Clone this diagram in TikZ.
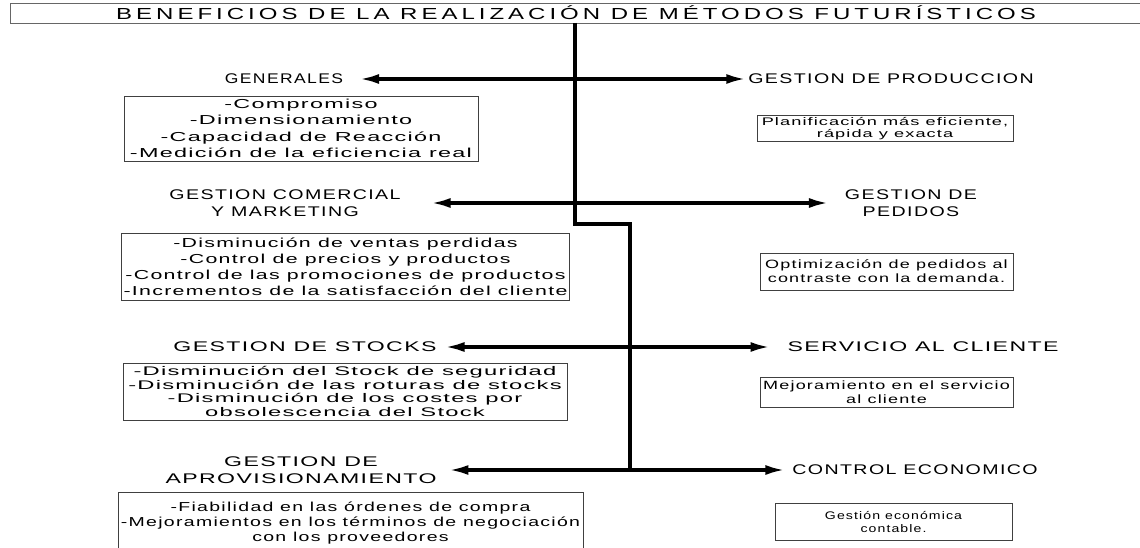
\documentclass[tikz,border=0pt]{standalone}
\usepackage{fontspec}
\setmainfont{Liberation Sans}
\newfontfamily\widefont[LetterSpace=10]{Liberation Sans}
\usetikzlibrary{arrows.meta}

\tikzset{
  head/.style={font=\widefont\fontsize{14}{17}\selectfont\addfontfeature{FakeStretch=#1}, align=center, inner sep=0pt, outer sep=8pt},
  head/.default=1.4,
  textbox/.style n args={3}{draw=black!75, line width=0.8pt, align=center, inner sep=2pt,
    font=\widefont\fontsize{#1}{#2}\selectfont\addfontfeature{FakeStretch=#3}},
  link/.style={{Latex[length=20pt,width=10pt]}-{Latex[length=20pt,width=10pt]}, line width=3.5pt},
  trunk/.style={line width=3.5pt},
}

\begin{document}
\begin{tikzpicture}[x=1pt, y=-1pt]
    % Page
    \useasboundingbox (0,0) rectangle (1140,548);

    % Title
    \draw[black!60, line width=0.8pt] (10,3) rectangle (1150,23);
    \node[font=\widefont\fontsize{16}{18}\selectfont\addfontfeature{LetterSpace=25,FakeStretch=1.5}] (title) at (576,13)
        {BENEFICIOS DE LA REALIZACIÓN DE MÉTODOS FUTURÍSTICOS};

    % Trunk points
    \coordinate (t0) at (575,23);
    \coordinate (j1) at (575,224);
    \coordinate (j2) at (630,224);
    \coordinate (j3) at (630,470);

    % Headings
    \node[head=1.25, outer xsep=16pt] (gen) at (284,79) {GENERALES};
    \node[head, outer xsep=2pt] (prod) at (891,79) {GESTION DE PRODUCCION};
    \node[head, outer xsep=30pt] (com) at (285,203) {GESTION COMERCIAL\\Y MARKETING};
    \node[head, outer xsep=16pt] (ped) at (911,203) {GESTION DE\\PEDIDOS};
    \node[head=1.65] (sto) at (305,347) {GESTION DE STOCKS};
    \node[head=1.65, outer xsep=17pt] (ser) at (923,347) {SERVICIO AL CLIENTE};
    \node[head=1.65, outer xsep=12pt] (apr) at (301,470) {GESTION DE\\APROVISIONAMIENTO};
    \node[head, outer xsep=7pt] (ctl) at (915,470) {CONTROL ECONOMICO};

    % Boxes
    \node[textbox={13}{16.5}{1.8}, minimum width=354, minimum height=65] (genbox) at (301,128.5)
        {-Compromiso\\-Dimensionamiento\\-Capacidad de Reacción\\-Medición de la eficiencia real};
    \node[textbox={11}{12}{1.65}, minimum width=256, minimum height=23] (prodbox) at (885,128.5)
        {Planificación más eficiente,\\rápida y exacta};
    \node[textbox={13}{16}{1.64}, minimum width=445, minimum height=67] (combox) at (345.5,266.5)
        {-Disminución de ventas perdidas\\-Control de precios y productos\\-Control de las promociones de productos\\-Incrementos de la satisfacción del cliente};
    \node[textbox={12}{14}{1.5}, minimum width=253, minimum height=37] (pedbox) at (886.5,271.5)
        {Optimización de pedidos al\\contraste con la demanda.};
    \node[textbox={12.5}{13.5}{1.9}, minimum width=444, minimum height=57] (stobox) at (345,391.5)
        {-Disminución del Stock de seguridad\\-Disminución de las roturas de stocks\\-Disminución de los costes por\\obsolescencia del Stock};
    \node[textbox={12}{14}{1.5}, minimum width=253, minimum height=30] (serbox) at (886.5,392)
        {Mejoramiento en el servicio\\al cliente};
    \node[textbox={13}{15}{1.5}, minimum width=465, minimum height=62] (aprbox) at (350.5,523)
        {-Fiabilidad en las órdenes de compra\\-Mejoramientos en los términos de negociación\\con los proveedores};
    \node[textbox={11}{13}{1.28}, minimum width=237, minimum height=37] (ctlbox) at (893.5,521.5)
        {Gestión económica\\contable.};

    % Trunk
    \draw[trunk] (t0) -- (j1) -- (j2) -- (j3);

    % Arrows
    \draw[link] (gen) -- (prod);
    \draw[link] (com) -- (ped);
    \draw[link] (sto) -- (ser);
    \draw[link] (apr) -- (ctl);
\end{tikzpicture}
\end{document}
